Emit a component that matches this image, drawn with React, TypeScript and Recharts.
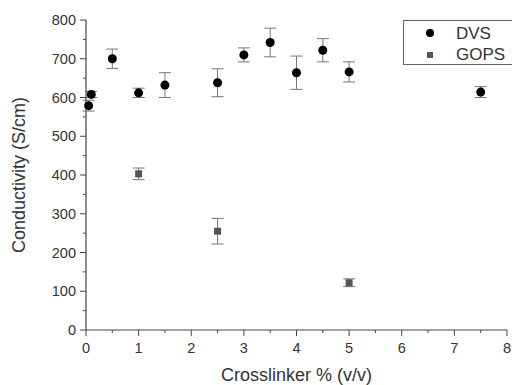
import React from 'react';
import { ScatterChart, Scatter, XAxis, YAxis, ErrorBar, Label } from 'recharts';

const dvsX = [0.05, 0.1, 0.5, 1, 1.5, 2.5, 3, 3.5, 4, 4.5, 5, 7.5];
const dvsY = [579, 608, 700, 612, 632, 638, 710, 742, 664, 722, 666, 614];
const dvsErr = [14, 8, 25, 12, 32, 36, 18, 37, 43, 30, 26, 14];

const gopsX = [1, 2.5, 5];
const gopsY = [403, 255, 122];
const gopsErr = [15, 33, 10];

const xTicks = [0, 0.5, 1, 1.5, 2, 2.5, 3, 3.5, 4, 4.5, 5, 5.5, 6, 6.5, 7, 7.5, 8];
const yTicks = [0, 50, 100, 150, 200, 250, 300, 350, 400, 450, 500, 550, 600, 650, 700, 750, 800];

const dvsData = dvsX.map((x, i) => ({ x, y: dvsY[i], err: dvsErr[i] }));
const gopsData = gopsX.map((x, i) => ({ x, y: gopsY[i], err: gopsErr[i] }));

const FONT = '"Liberation Sans", Arial, sans-serif';
const AXIS = '#444';
const TEXT = '#333';

const YTick = (props: any) => {
  const { x, y, payload } = props;
  const major = payload.value % 100 === 0;
  return (
    <g>
      <line x1={x - (major ? 6 : 3)} x2={x} y1={y} y2={y} stroke={AXIS} strokeWidth={1} />
      {major && (
        <text x={x - 10} y={y + 5} textAnchor="end" fontSize={14.5} fill={TEXT} fontFamily={FONT}>
          {payload.value}
        </text>
      )}
    </g>
  );
};

const XTick = (props: any) => {
  const { x, y, payload } = props;
  const major = payload.value % 1 === 0;
  return (
    <g>
      <line x1={x} x2={x} y1={y} y2={y + (major ? 6 : 3)} stroke={AXIS} strokeWidth={1} />
      {major && (
        <text x={x} y={y + 23} textAnchor="middle" fontSize={14.5} fill={TEXT} fontFamily={FONT}>
          {payload.value}
        </text>
      )}
    </g>
  );
};

// legend drawn as an overlay so it does not take space from the plot
const LegendBox = () => (
  <div
    style={{
      position: 'absolute',
      left: 403,
      top: 20,
      width: 109,
      height: 45,
      border: '1px solid #666',
      borderRight: 'none',
      boxSizing: 'border-box',
      background: '#fff',
    }}
  >
    <svg width={108} height={43} style={{ position: 'absolute', left: 0, top: 0, overflow: 'visible' }}>
      <circle cx={26} cy={12} r={4} fill="#000" />
      <rect x={23} y={31} width={6} height={6} fill="#555" />
      <text x={52} y={18} fontSize={17} fill={TEXT} fontFamily={FONT}>DVS</text>
      <text x={52} y={39} fontSize={17} fill={TEXT} fontFamily={FONT}>GOPS</text>
    </svg>
  </div>
);

const App: React.FC = () => {
  return (
    <div style={{ position: 'absolute', left: 0, top: 0, width: 512, height: 385, background: '#fff', overflow: 'hidden' }}>
      <ScatterChart width={512} height={385} margin={{ top: 20, right: 5, bottom: 15, left: 26 }}>
        <XAxis
          type="number"
          dataKey="x"
          domain={[0, 8]}
          ticks={xTicks}
          interval={0}
          tick={<XTick />}
          tickLine={false}
          tickSize={0}
          tickMargin={0}
          height={40}
          axisLine={{ stroke: AXIS, strokeWidth: 1.2 }}
        >
          <Label
            content={(p: any) => (
              <text
                x={p.viewBox.x + p.viewBox.width / 2}
                y={381}
                textAnchor="middle"
                fontSize={18}
                fill={TEXT}
                fontFamily={FONT}
              >
                Crosslinker % (v/v)
              </text>
            )}
          />
        </XAxis>
        <YAxis
          type="number"
          dataKey="y"
          domain={[0, 800]}
          ticks={yTicks}
          interval={0}
          tick={<YTick />}
          tickLine={false}
          tickSize={0}
          tickMargin={0}
          width={60}
          axisLine={{ stroke: AXIS, strokeWidth: 1.2 }}
        >
          <Label
            content={(p: any) => {
              const cy = p.viewBox.y + p.viewBox.height / 2;
              return (
                <text
                  x={25}
                  y={cy}
                  transform={`rotate(-90 25 ${cy})`}
                  textAnchor="middle"
                  fontSize={18}
                  fill={TEXT}
                  fontFamily={FONT}
                >
                  Conductivity (S/cm)
                </text>
              );
            }}
          />
        </YAxis>
        <Scatter
          name="DVS"
          data={dvsData}
          isAnimationActive={false}
          shape={(p: any) => <circle cx={p.cx} cy={p.cy} r={4.5} fill="#000" />}
        >
          <ErrorBar dataKey="err" direction="y" width={6} stroke="#777" strokeWidth={1} />
        </Scatter>
        <Scatter
          name="GOPS"
          data={gopsData}
          isAnimationActive={false}
          shape={(p: any) => <rect x={p.cx - 3.5} y={p.cy - 3.5} width={7} height={7} fill="#555" />}
        >
          <ErrorBar dataKey="err" direction="y" width={6} stroke="#777" strokeWidth={1} />
        </Scatter>
      </ScatterChart>
      <LegendBox />
    </div>
  );
};

export default App;
